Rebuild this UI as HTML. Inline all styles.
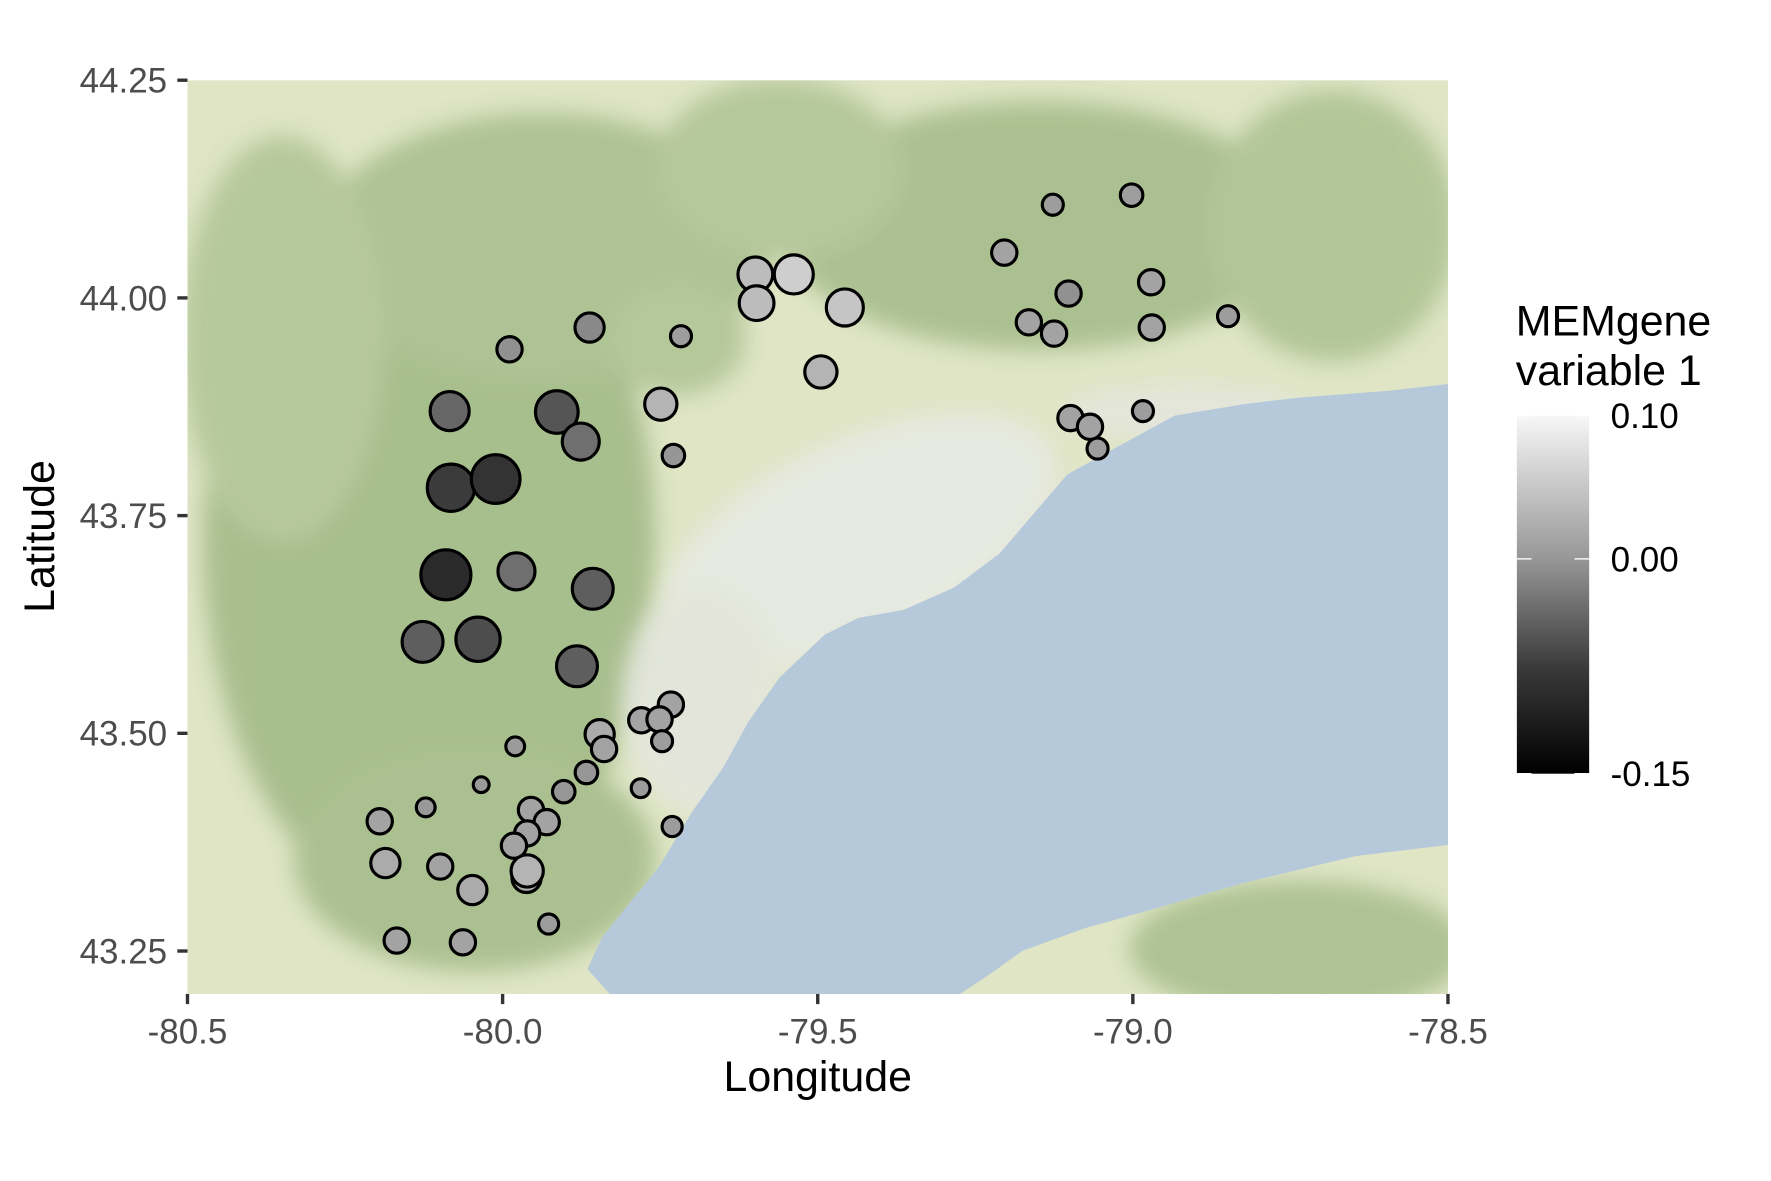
<!DOCTYPE html>
<html><head><meta charset="utf-8"><style>html,body{margin:0;padding:0;background:#fff}svg{display:block}text{font-family:"Liberation Sans",Arial,sans-serif}</style></head>
<body>
<svg id="chart" width="1771" height="1181" viewBox="0 0 1568 1045.6" xmlns="http://www.w3.org/2000/svg">
<defs>
<clipPath id="pc"><rect x="166" y="71" width="1116" height="809"/></clipPath>
<linearGradient id="lg" x1="0" y1="1" x2="0" y2="0">
<stop offset="0" stop-color="#000"/><stop offset="0.3" stop-color="#3b3b3b"/><stop offset="0.6" stop-color="#979797"/><stop offset="1" stop-color="#f7f7f7"/></linearGradient>
<filter id="bl"><feGaussianBlur stdDeviation="10"/></filter>
</defs>
<g clip-path="url(#pc)">
<rect x="166" y="71" width="1116" height="809" fill="#dfe5c5"/>
<g filter="url(#bl)" opacity="0.9">
<ellipse cx="380" cy="480" rx="200" ry="330" fill="#a2ba87"/>
<ellipse cx="480" cy="220" rx="200" ry="120" fill="#a9c08e"/>
<ellipse cx="250" cy="300" rx="90" ry="180" fill="#b2c697"/>
<ellipse cx="920" cy="200" rx="230" ry="110" fill="#a6bd8b"/>
<ellipse cx="1180" cy="200" rx="110" ry="120" fill="#adc393"/>
<ellipse cx="420" cy="760" rx="160" ry="100" fill="#a6bd8b"/>
<ellipse cx="1150" cy="840" rx="150" ry="60" fill="#a9bf8e"/>
<ellipse cx="690" cy="150" rx="110" ry="80" fill="#b0c596"/>
<ellipse cx="600" cy="300" rx="60" ry="50" fill="#b0c596"/>
</g>
<g filter="url(#bl)" opacity="0.85">
<ellipse cx="760" cy="480" rx="190" ry="90" fill="#e8eae4" transform="rotate(-25 760 480)"/>
<ellipse cx="620" cy="620" rx="70" ry="100" fill="#e4e6de"/>
<ellipse cx="1050" cy="365" rx="110" ry="25" fill="#e4e6de"/>
</g>
<polygon fill="#b6c9db" points="1282,340 1230,346 1150,352 1100,358 1040,368 985,398 945,420 915,455 885,490 845,520 800,540 760,547 730,562 690,600 662,640 640,680 612,720 583,768 557,800 533,830 520,858 540,880 850,880 880,860 905,842 960,822 1010,808 1100,782 1200,758 1282,748"/>
</g>
<g id="yaxis"></g>
<g id="xaxis"></g>
<g id="points"></g>
<text x="724" y="966" font-size="38" text-anchor="middle" fill="#000">Longitude</text>
<text transform="translate(48,475) rotate(-90)" font-size="38" text-anchor="middle" fill="#000">Latitude</text>
<g>
<text x="1342" y="297" font-size="38" fill="#000">MEMgene</text>
<text x="1342" y="341" font-size="38" fill="#000">variable 1</text>
<rect x="1343" y="368" width="64" height="317" fill="url(#lg)"/>
<g id="legticks"></g>
</g>
</svg>
<script>
const lon = [-79.002,-79.127,-79.204,-78.971,-79.102,-79.599,-79.538,-79.597,-79.457,-79.165,-79.125,-78.970,-78.849,-79.862,-79.717,-79.989,-79.495,-79.749,-80.084,-79.914,-79.876,-79.729,-79.099,-79.068,-78.984,-79.056,-80.082,-80.011,-80.090,-79.978,-79.857,-80.127,-80.039,-79.882,-79.733,-79.780,-79.751,-79.846,-79.839,-79.747,-79.980,-79.867,-80.034,-79.903,-79.781,-80.122,-80.195,-79.955,-79.930,-79.731,-79.961,-79.982,-80.186,-80.099,-79.962,-79.961,-80.048,-79.927,-80.168,-80.063];
const lat = [44.118,44.107,44.052,44.018,44.005,44.027,44.027,43.994,43.989,43.972,43.959,43.966,43.979,43.966,43.956,43.941,43.915,43.878,43.870,43.869,43.835,43.819,43.862,43.852,43.870,43.827,43.782,43.792,43.682,43.686,43.666,43.605,43.608,43.577,43.533,43.515,43.516,43.499,43.482,43.491,43.485,43.455,43.441,43.433,43.437,43.415,43.399,43.412,43.398,43.393,43.385,43.371,43.351,43.347,43.334,43.342,43.320,43.281,43.262,43.260];
const memVal = [0.005,0.003,0.01,0.01,-0.01,0.04,0.06,0.04,0.05,0.01,0.01,0.01,0.003,-0.02,0.003,-0.01,0.03,0.03,-0.06,-0.08,-0.05,-0.005,0.01,0.01,0.003,0.003,-0.11,-0.12,-0.13,-0.05,-0.07,-0.07,-0.09,-0.07,0.01,0.01,0.01,0.02,0.01,0.003,0.001,-0.005,0.0,-0.005,0.001,-0.001,0.01,0.01,0.01,0.002,0.01,0.01,0.02,0.01,0.02,0.03,0.02,0.002,0.01,0.01];
const xTicks = [-80.5,-80.0,-79.5,-79.0,-78.5];
const xTickLabels = ["-80.5","-80.0","-79.5","-79.0","-78.5"];
const yTicks = [43.25,43.5,43.75,44.0,44.25];
const yTickLabels = ["43.25","43.50","43.75","44.00","44.25"];
const legVals = [0.10,0.00,-0.15];
const legLabels = ["0.10","0.00","-0.15"];

const NS="http://www.w3.org/2000/svg";
const xs = v => 166 + (v + 80.5) * 558;
const ys = v => 71 + (44.25 - v) * 771;
const ls = v => 368 + (0.10 - v) * 1268;
function gray(v){
  let t=(v+0.15)/0.25; t=Math.max(0,Math.min(1,t));
  const g=Math.round(25+t*215);
  return `rgb(${g},${g},${g})`;
}
function mk(tag,parent,attrs){const e=document.createElementNS(NS,tag);for(const k in attrs)e.setAttribute(k,attrs[k]);parent.appendChild(e);return e;}

const ya=document.getElementById('yaxis');
yTicks.forEach((t,i)=>{
  const y=ys(t);
  const l=mk('line',ya,{x1:157,x2:166,y1:y,y2:y,stroke:'#333','stroke-width':3});
  
  
  const tx=mk('text',ya,{x:148,y:y+11,'font-size':31,'text-anchor':'end',fill:'#4d4d4d'});
  tx.textContent=yTickLabels[i];
  
  
});
const xa=document.getElementById('xaxis');
xTicks.forEach((t,i)=>{
  const x=xs(t);
  const l=mk('line',xa,{x1:x,x2:x,y1:880,y2:889,stroke:'#333','stroke-width':3});
  
  
  const tx=mk('text',xa,{x:x,y:924,'font-size':31,'text-anchor':'middle',fill:'#4d4d4d'});
  tx.textContent=xTickLabels[i];
  
  
});
const pg=document.getElementById('points');
lon.forEach((x,i)=>{
  const v=memVal[i];
  const r=7+Math.sqrt(Math.abs(v))*42;
  const c=mk('circle',pg,{cx:xs(x),cy:ys(lat[i]),r:r,fill:gray(v),stroke:'#000','stroke-width':2.8});
  
  
});
const lt=document.getElementById('legticks');
legVals.forEach((v,i)=>{
  const y=ls(v);
  const a=mk('line',lt,{x1:1343,x2:1356,y1:y,y2:y,stroke:'#fff','stroke-width':1.2});
  
  
  const b=mk('line',lt,{x1:1394,x2:1407,y1:y,y2:y,stroke:'#fff','stroke-width':1.2});
  
  
  const tx=mk('text',lt,{x:1426,y:y+11,'font-size':31,fill:'#000'});
  tx.textContent=legLabels[i];
  
  
});
</script>
</body></html>
